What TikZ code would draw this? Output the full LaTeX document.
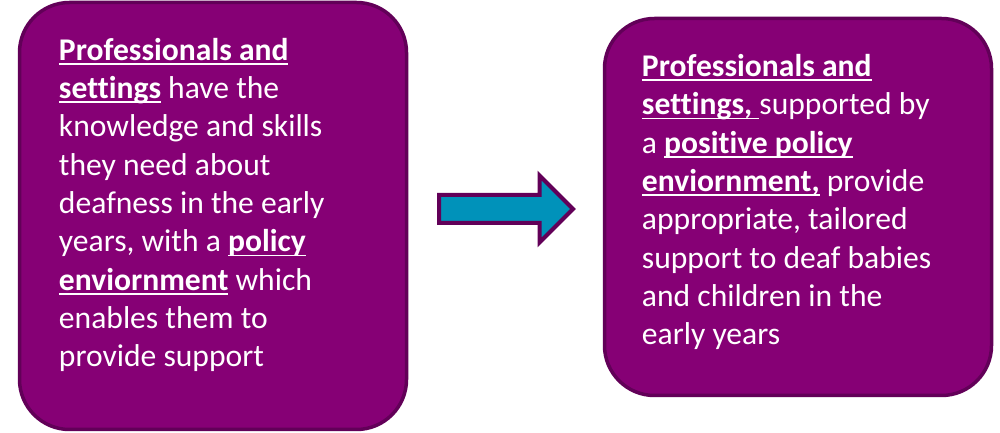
\documentclass[tikz,border=0pt]{standalone}
\usepackage{fontspec}
\setmainfont{Carlito}[Ligatures=NoCommon]
\usetikzlibrary{
  calc,
  positioning,
  shapes.arrows
}
\definecolor{stageFill}{RGB}{134,0,117}
\definecolor{stageStroke}{RGB}{98,0,88}
\definecolor{shiftFill}{RGB}{0,146,186}
\newsavebox{\keybox}
\newcommand{\keyterm}[1]{%
  \sbox{\keybox}{\bfseries #1}%
  \rlap{\rule[-4.5pt]{\wd\keybox}{1.8pt}}\usebox{\keybox}%
}
\tikzset{
  stage/.style={
    draw=stageStroke,
    fill=stageFill,
    rounded corners=50pt,
    line width=3.5pt
  },
  stagetext/.style={
    anchor=base west,
    align=left,
    inner sep=0pt,
    text=white,
    font=\fontsize{31.6}{38.3}\selectfont
  },
  bigarrow/.style={
    single arrow,
    draw=stageStroke,
    fill=shiftFill,
    line width=4pt,
    single arrow head extend=19.5pt,
    minimum height=134pt,
    inner xsep=0pt,
    inner ysep=12pt
  }
}

\begin{document}
\begin{tikzpicture}[x=1pt,y=1pt]
  \useasboundingbox (0,0) rectangle (1000,433);

  \node[stage, minimum width=387pt, minimum height=427pt] (before) at (213,217) {};
  \node[stage, minimum width=387pt, minimum height=377pt] (after) at (798,226) {};

  % base anchor sits on the last line
  \node[stagetext] (beforetext) at ($(before.north west)+(41,-366)$) {%
    \keyterm{Professionals and}\\
    \keyterm{settings} have the\\
    knowledge and skills\\
    they need about\\
    deafness in the early\\
    years, with a \keyterm{policy}\\
    \keyterm{enviornment} which\\
    enables them to\\
    provide support};

  \node[stagetext] (aftertext) at ($(after.north west)+(39,-328)$) {%
    \keyterm{Professionals and}\\
    \keyterm{settings,\ }supported by\\
    a \keyterm{positive policy}\\
    \keyterm{enviornment,} provide\\
    appropriate, tailored\\
    support to deaf babies\\
    and children in the\\
    early years};

  \node[bigarrow] (shift) at (499,224) {};
\end{tikzpicture}
\end{document}
